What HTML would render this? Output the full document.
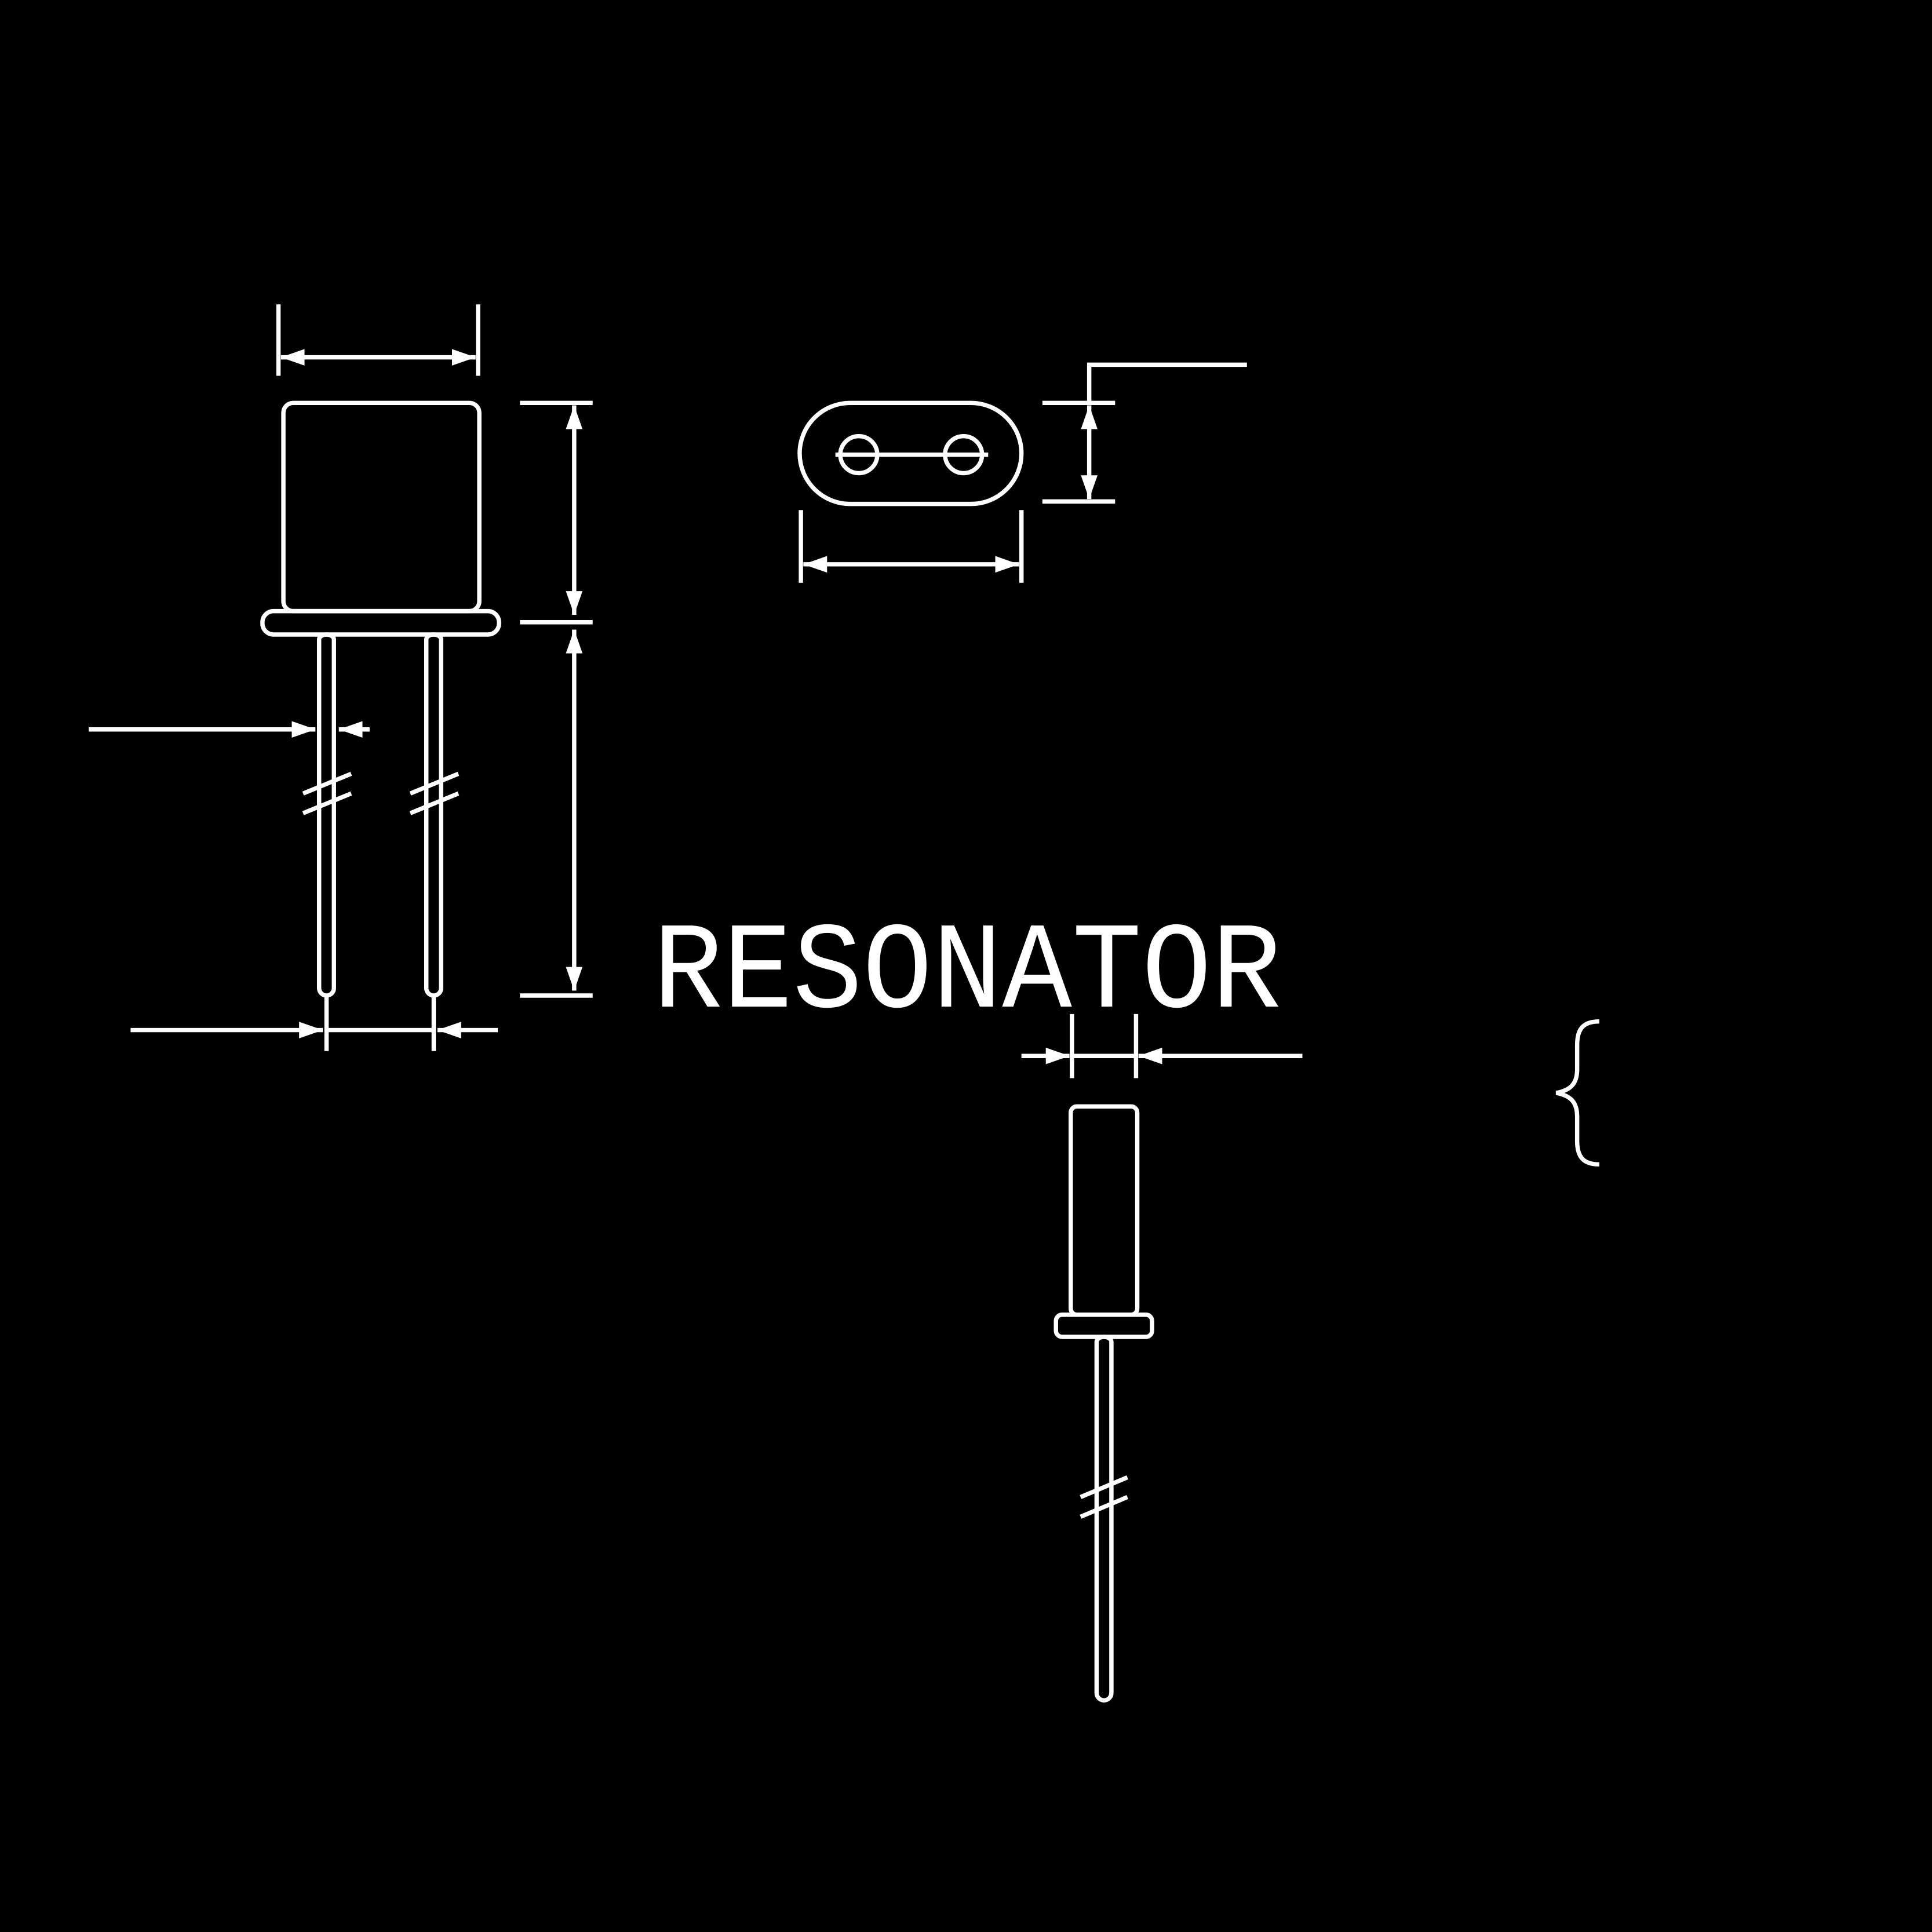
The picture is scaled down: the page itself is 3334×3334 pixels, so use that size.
<!DOCTYPE html>
<html><head><meta charset="utf-8"><style>
html,body{margin:0;padding:0;background:#000;}
svg{display:block;}
</style></head><body>
<svg width="3334" height="3334" viewBox="0 0 1568 1568" xmlns="http://www.w3.org/2000/svg">
<defs>
<marker id="a" viewBox="0 0 10 10" refX="10" refY="5" markerWidth="5.5" markerHeight="5.5" orient="auto-start-reverse" markerUnits="strokeWidth">
<path d="M0,1.5 L10,5 L0,8.5 z" fill="#fff"/>
</marker>
</defs>
<rect width="1568" height="1568" fill="#000"/>
<g fill="none" stroke="#fff" stroke-width="3.5">
<rect x="230" y="327" width="159" height="169" rx="8"/>
<rect x="213" y="496" width="192" height="19" rx="9"/>
<path d="M259,519 a6,4 0 0 1 12,0 V802 a6,6 0 0 1 -12,0 Z"/>
<path d="M346,519 a6,4 0 0 1 12,0 V802 a6,6 0 0 1 -12,0 Z"/>
<line x1="246" y1="644" x2="285" y2="628"/><line x1="246" y1="660" x2="285" y2="644"/>
<line x1="333" y1="644" x2="372" y2="628"/><line x1="333" y1="660" x2="372" y2="644"/>
<line x1="226" y1="247" x2="226" y2="305"/><line x1="388" y1="247" x2="388" y2="305"/>
<line x1="228" y1="290" x2="386" y2="290" marker-start="url(#a)" marker-end="url(#a)"/>
<line x1="422" y1="327" x2="481" y2="327"/><line x1="422" y1="505" x2="481" y2="505"/><line x1="422" y1="808" x2="481" y2="808"/>
<line x1="466" y1="329" x2="466" y2="499" marker-start="url(#a)" marker-end="url(#a)"/>
<line x1="466" y1="511" x2="466" y2="804" marker-start="url(#a)" marker-end="url(#a)"/>
<line x1="72" y1="592" x2="256" y2="592" marker-end="url(#a)"/>
<line x1="300" y1="592" x2="275" y2="592" marker-end="url(#a)"/>
<line x1="265" y1="808" x2="265" y2="853"/><line x1="352" y1="808" x2="352" y2="853"/>
<line x1="106" y1="836" x2="262" y2="836" marker-end="url(#a)"/>
<line x1="265" y1="836" x2="352" y2="836"/>
<line x1="404" y1="836" x2="355" y2="836" marker-end="url(#a)"/>
<rect x="649" y="327" width="180" height="82" rx="41"/>
<circle cx="697" cy="369" r="15"/><circle cx="782" cy="369" r="15"/>
<line x1="678" y1="369" x2="802" y2="369"/>
<line x1="650" y1="414" x2="650" y2="473"/><line x1="829" y1="414" x2="829" y2="473"/>
<line x1="652" y1="458" x2="827" y2="458" marker-start="url(#a)" marker-end="url(#a)"/>
<line x1="846" y1="327" x2="905" y2="327"/><line x1="846" y1="407" x2="905" y2="407"/>
<line x1="884" y1="329" x2="884" y2="405" marker-start="url(#a)" marker-end="url(#a)"/>
<path d="M884,327 V296 H1012"/>
<line x1="870" y1="823" x2="870" y2="875"/><line x1="922" y1="823" x2="922" y2="875"/>
<line x1="829" y1="857" x2="868" y2="857" marker-end="url(#a)"/>
<line x1="870" y1="857" x2="922" y2="857"/>
<line x1="1057" y1="857" x2="924" y2="857" marker-end="url(#a)"/>
<rect x="869" y="898" width="54" height="169" rx="5"/>
<rect x="857" y="1067" width="78" height="18" rx="5"/>
<path d="M890,1089 a6,4 0 0 1 12,0 V1374 a6,6 0 0 1 -12,0 Z"/>
<line x1="877" y1="1215" x2="915" y2="1199"/><line x1="877" y1="1231" x2="915" y2="1215"/>
<path d="M1298,829 C1285,829 1280,835 1280,848 V868 C1280,880 1274,885 1263,887 C1274,889 1280,894 1280,906 V926 C1280,939 1285,945 1298,945"/>
</g>
<text x="530" y="817" font-family="'Liberation Mono', monospace" font-size="100" fill="#fff" textLength="510" lengthAdjust="spacingAndGlyphs">RESONATOR</text>
</svg>
</body></html>
